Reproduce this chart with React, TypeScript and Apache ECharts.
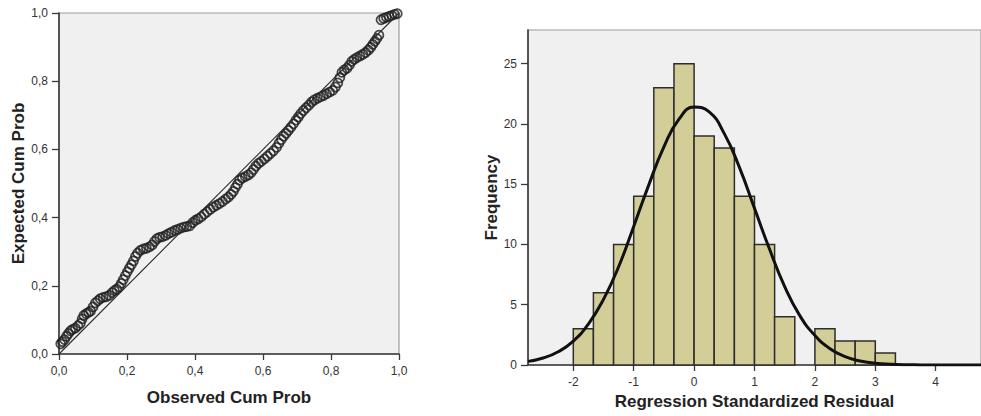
import React, { useEffect, useRef } from "react";
import * as echarts from "echarts";

// ---------- P-P plot (left) ----------
const PP_OBSERVED = [
  0.005, 0.010, 0.016, 0.022, 0.028, 0.034, 0.040, 0.048, 0.056, 0.063,
  0.068, 0.073, 0.080, 0.087, 0.093, 0.100, 0.107, 0.114, 0.121, 0.130,
  0.139, 0.148, 0.156, 0.163, 0.170, 0.177, 0.183, 0.189, 0.195, 0.201,
  0.207, 0.213, 0.219, 0.225, 0.231, 0.239, 0.248, 0.257, 0.266, 0.274,
  0.281, 0.288, 0.296, 0.305, 0.314, 0.322, 0.331, 0.340, 0.349, 0.358,
  0.367, 0.376, 0.385, 0.393, 0.401, 0.409, 0.418, 0.427, 0.436, 0.445,
  0.454, 0.463, 0.472, 0.481, 0.490, 0.498, 0.506, 0.513, 0.519, 0.525,
  0.531, 0.539, 0.548, 0.557, 0.565, 0.572, 0.579, 0.587, 0.595, 0.604,
  0.613, 0.622, 0.631, 0.640, 0.647, 0.654, 0.661, 0.668, 0.675, 0.682,
  0.690, 0.697, 0.704, 0.711, 0.719, 0.727, 0.735, 0.743, 0.751, 0.760,
  0.769, 0.778, 0.787, 0.796, 0.805, 0.813, 0.820, 0.826, 0.832, 0.839,
  0.847, 0.854, 0.861, 0.868, 0.876, 0.885, 0.894, 0.902, 0.910, 0.917,
  0.923, 0.929, 0.935, 0.941, 0.947, 0.955, 0.963, 0.971, 0.979, 0.987,
  0.995,
];
const PP_EXPECTED = [
  0.030, 0.036, 0.042, 0.052, 0.060, 0.068, 0.072, 0.076, 0.083, 0.090,
  0.103, 0.113, 0.118, 0.122, 0.126, 0.138, 0.150, 0.156, 0.162, 0.166,
  0.168, 0.172, 0.180, 0.186, 0.190, 0.197, 0.207, 0.218, 0.230, 0.241,
  0.252, 0.262, 0.273, 0.286, 0.296, 0.304, 0.308, 0.310, 0.314, 0.320,
  0.330, 0.338, 0.342, 0.344, 0.348, 0.353, 0.357, 0.362, 0.365, 0.369,
  0.372, 0.374, 0.376, 0.385, 0.392, 0.396, 0.402, 0.410, 0.417, 0.424,
  0.431, 0.436, 0.441, 0.447, 0.454, 0.460, 0.468, 0.477, 0.488, 0.498,
  0.510, 0.516, 0.520, 0.525, 0.532, 0.541, 0.551, 0.559, 0.565, 0.572,
  0.580, 0.588, 0.596, 0.606, 0.618, 0.629, 0.639, 0.647, 0.656, 0.665,
  0.675, 0.686, 0.695, 0.705, 0.714, 0.722, 0.730, 0.739, 0.745, 0.750,
  0.754, 0.758, 0.763, 0.768, 0.773, 0.783, 0.795, 0.810, 0.826, 0.833,
  0.838, 0.847, 0.858, 0.864, 0.869, 0.874, 0.879, 0.884, 0.891, 0.899,
  0.908, 0.917, 0.925, 0.935, 0.980, 0.984, 0.987, 0.990, 0.993, 0.996,
  0.998,
];
const DIAGONAL_X = [0, 1];
const DIAGONAL_Y = [0, 1];

// ---------- Histogram (right) ----------
const BIN_LOWER = [-2.0, -1.667, -1.333, -1.0, -0.667, -0.333, 0.0, 0.333, 0.667, 1.0, 1.333, 1.667, 2.0, 2.333, 2.667, 3.0];
const BIN_UPPER = [-1.667, -1.333, -1.0, -0.667, -0.333, 0.0, 0.333, 0.667, 1.0, 1.333, 1.667, 2.0, 2.333, 2.667, 3.0, 3.333];
const BIN_COUNTS = [3, 6, 10, 14, 23, 25, 19, 18, 14, 10, 4, 0, 3, 2, 2, 1];

const CURVE_X = [
  -2.75, -2.5, -2.25, -2.0, -1.75, -1.5, -1.25, -1.0, -0.75, -0.5, -0.25, 0.0,
  0.25, 0.5, 0.75, 1.0, 1.25, 1.5, 1.75, 2.0, 2.25, 2.5, 2.75, 3.0, 3.25, 3.5,
  3.75, 4.0, 4.25, 4.5, 4.75,
];
const CURVE_Y = [
  0.30, 0.58, 1.10, 1.98, 3.40, 5.45, 8.15, 11.5, 14.95, 18.1, 20.4, 21.4,
  21.0, 19.2, 16.4, 13.0, 9.6, 6.5, 4.1, 2.45, 1.35, 0.70, 0.33, 0.15, 0.06, 0.02,
  0.01, 0, 0, 0, 0,
];

const PP_TICKS = [0, 0.2, 0.4, 0.6, 0.8, 1.0];
const HIST_X_TICKS = [-2, -1, 0, 1, 2, 3, 4];
const HIST_Y_TICKS = [0, 5, 10, 15, 20, 25];

const FONT = "'Liberation Sans', Arial, 'DejaVu Sans', sans-serif";
const AXIS_COLOR = "#3a3a3a";
const LABEL_COLOR = "#333";

function commaFmt(v: number) {
  return v.toFixed(1).replace(".", ",");
}

function axisCommon() {
  return {
    axisLine: { show: true, onZero: false, lineStyle: { color: AXIS_COLOR, width: 1.6 } },
    splitLine: { show: false },
    nameTextStyle: { fontFamily: FONT, fontWeight: "bold", fontSize: 17, color: "#222" },
  };
}

export default function App() {
  const ref = useRef<HTMLDivElement>(null);

  useEffect(() => {
    if (!ref.current) return;
    const chart = echarts.init(ref.current, null, { renderer: "svg" });

    const ppData = PP_OBSERVED.map((x, i) => [x, PP_EXPECTED[i]]);
    const diagData = DIAGONAL_X.map((x, i) => [x, DIAGONAL_Y[i]]);
    const binData = BIN_LOWER.map((lo, i) => [lo, BIN_UPPER[i], BIN_COUNTS[i]]);
    const curveData = CURVE_X.map((x, i) => [x, CURVE_Y[i]]);

    const option: any = {
      animation: false,
      backgroundColor: "#ffffff",
      grid: [
        {
          left: 59, top: 13, width: 340, height: 341,
          show: true, backgroundColor: "#f0f0f0", borderColor: "#9c9c9c", borderWidth: 1.2,
        },
        {
          left: 528, top: 30, width: 459, height: 335,
          show: true, backgroundColor: "#f0f0f0", borderColor: "#9c9c9c", borderWidth: 1.2,
        },
      ],
      xAxis: [
        {
          ...axisCommon(),
          type: "value", gridIndex: 0, min: 0, max: 1, interval: 0.2,
          axisTick: { show: true, length: 6, lineStyle: { color: AXIS_COLOR, width: 1.3 }, customValues: PP_TICKS },
          axisLabel: { formatter: commaFmt, margin: 11, fontSize: 12, color: LABEL_COLOR, fontFamily: FONT, customValues: PP_TICKS },
          name: "Observed Cum Prob", nameLocation: "middle", nameGap: 35,
        },
        {
          ...axisCommon(),
          type: "value", gridIndex: 1, min: -2.75, max: 4.75,
          axisTick: { show: true, length: 6, lineStyle: { color: AXIS_COLOR, width: 1.3 }, customValues: HIST_X_TICKS },
          axisLabel: { margin: 11, fontSize: 12, color: LABEL_COLOR, fontFamily: FONT, customValues: HIST_X_TICKS },
          name: "Regression Standardized Residual", nameLocation: "middle", nameGap: 28,
        },
      ],
      yAxis: [
        {
          ...axisCommon(),
          type: "value", gridIndex: 0, min: 0, max: 1, interval: 0.2,
          axisTick: { show: true, length: 7, lineStyle: { color: AXIS_COLOR, width: 1.3 }, customValues: PP_TICKS },
          axisLabel: { formatter: commaFmt, margin: 11, fontSize: 12, color: LABEL_COLOR, fontFamily: FONT, customValues: PP_TICKS },
          name: "Expected Cum Prob", nameLocation: "middle", nameRotate: 90, nameGap: 31,
        },
        {
          ...axisCommon(),
          type: "value", gridIndex: 1, min: 0, max: 27.8,
          axisTick: { show: true, length: 7, lineStyle: { color: AXIS_COLOR, width: 1.3 }, customValues: HIST_Y_TICKS },
          axisLabel: { margin: 11, fontSize: 12, color: LABEL_COLOR, fontFamily: FONT, customValues: HIST_Y_TICKS },
          name: "Frequency", nameLocation: "middle", nameRotate: 90, nameGap: 28,
        },
      ],
      series: [
        {
          type: "line", xAxisIndex: 0, yAxisIndex: 0, data: diagData,
          symbol: "none", lineStyle: { color: "#2a2a2a", width: 1.1 }, silent: true,
        },
        {
          type: "scatter", xAxisIndex: 0, yAxisIndex: 0, data: ppData,
          symbol: "circle", symbolSize: 9,
          itemStyle: { color: "rgba(0,0,0,0)", borderColor: "#1f1f1f", borderWidth: 1.8 },
          silent: true,
        },
        {
          type: "custom", xAxisIndex: 1, yAxisIndex: 1, data: binData,
          encode: { x: [0, 1], y: 2 },
          renderItem: (params: any, api: any) => {
            const lo = api.value(0);
            const hi = api.value(1);
            const c = api.value(2);
            if (!c) return { type: "group", children: [] };
            const p0 = api.coord([lo, 0]);
            const p1 = api.coord([hi, c]);
            return {
              type: "rect",
              shape: { x: p0[0], y: p1[1], width: p1[0] - p0[0], height: p0[1] - p1[1] },
              style: { fill: "#d3ce97", stroke: "#2e2e2e", lineWidth: 1.5 },
            };
          },
          silent: true,
        },
        {
          type: "line", xAxisIndex: 1, yAxisIndex: 1, data: curveData,
          smooth: true, symbol: "none", lineStyle: { color: "#111", width: 3 }, silent: true,
        },
      ],
    };

    chart.setOption(option);
    return () => chart.dispose();
  }, []);

  return <div ref={ref} style={{ position: "absolute", left: 0, top: 0, width: 981, height: 416 }} />;
}
